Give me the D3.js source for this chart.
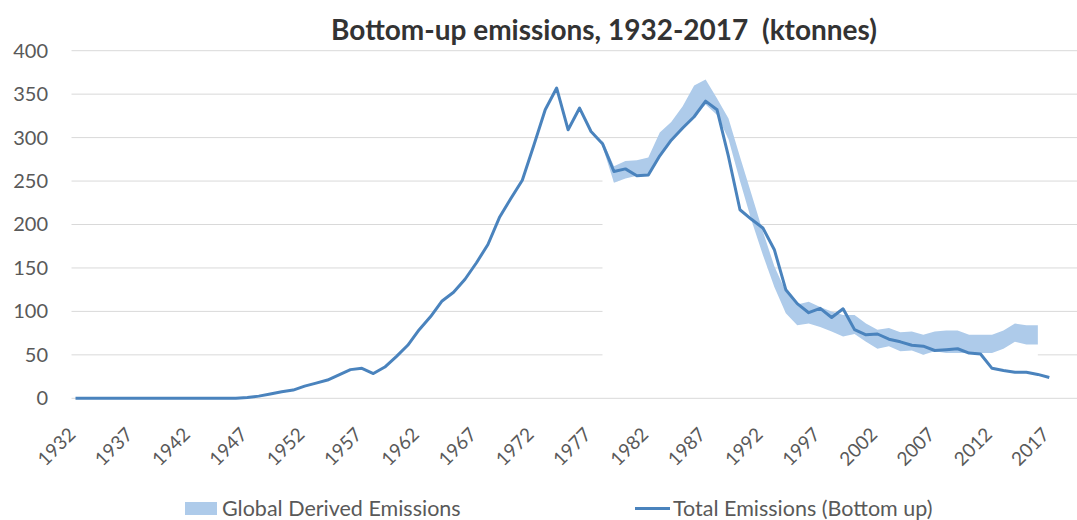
<!DOCTYPE html>
<html>
<head>
<meta charset="utf-8">
<script src="https://cdn.jsdelivr.net/npm/d3@7"></script>
<style>
  html, body { margin: 0; padding: 0; background: #fff; }
  svg { display: block; font-family: Lato, "Noto Sans", sans-serif; }
</style>
</head>
<body>
<div id="chart"></div>
<script>
// categories
const firstYear = 1932, lastYear = 2017;
const years = d3.range(firstYear, lastYear + 1);
const xTickYears = [1932, 1937, 1942, 1947, 1952, 1957, 1962, 1967, 1972, 1977,
  1982, 1987, 1992, 1997, 2002, 2007, 2012, 2017];
const yTicks = [0, 50, 100, 150, 200, 250, 300, 350, 400];

// Total Emissions (Bottom up), 1932-2017
const totalEmissions = [
  0, 0, 0, 0, 0, 0, 0, 0, 0, 0, 0, 0, 0, 0, 0,
  1, 2.5, 5, 7.5, 9.5, 14, 17.5, 21, 27, 33, 34.5, 28.5, 36, 48, 61,
  79, 94, 112, 122, 137, 156, 177, 208, 230, 251, 291, 332, 357, 309, 334,
  307, 293, 261, 264, 256, 257, 279, 297, 311, 324, 342, 332, 278, 217, 206,
  196, 171, 125, 109, 98.5, 103.5, 93, 103, 79, 73, 74, 68, 65, 61, 60,
  55, 56, 57, 52, 51, 34.5, 32, 30, 30, 27.5, 24
];

// Global Derived Emissions band, 1978-2016
const derivedStart = 1978;
const derivedLow = [
  290, 248, 253, 256, 257, 280, 297, 309, 323, 338,
  326, 298, 250, 205, 165, 128, 98, 84, 86, 82,
  77, 71, 74, 65, 57, 60, 54, 55, 50, 54,
  52, 52, 52, 52, 52, 57, 65, 62, 62
];
const derivedHigh = [
  297, 267, 273, 274, 277, 306, 318, 336, 360, 367,
  345, 322, 278, 235, 192, 152, 123, 108, 111, 105,
  100, 96, 96, 86, 79, 81, 76, 77, 73, 77,
  78, 78, 73, 73, 73, 78, 86, 84, 84
];

const W = 1077, H = 520;
const lineColor = '#4a83bd';
const bandColor = '#aecbea';
const gridColor = '#d9d9d9';
const textColor = '#595959';

const svg = d3.select('#chart').append('svg')
  .attr('width', W).attr('height', H);

const x = d3.scaleLinear().domain([firstYear, lastYear]).range([75.5, 1049.3]);
const y = d3.scaleLinear().domain([0, 400]).range([398.3, 50.7]);
const gridLeft = 71.5, gridRight = W;

// gridlines
svg.append('g')
  .selectAll('line')
  .data(yTicks.filter(d => d > 0))
  .join('line')
  .attr('x1', gridLeft).attr('x2', gridRight)
  .attr('y1', d => y(d)).attr('y2', d => y(d))
  .attr('stroke', gridColor).attr('stroke-width', 1);

const band = derivedLow.map((lo, i) => ({ year: derivedStart + i, lo, hi: derivedHigh[i] }));

// white base of the stacked band hides the gridlines below it
svg.append('path')
  .datum(band)
  .attr('fill', '#fff')
  .attr('d', d3.area().x(d => x(d.year)).y0(y(0)).y1(d => y(d.lo)));

svg.append('path')
  .datum(band)
  .attr('fill', bandColor)
  .attr('d', d3.area().x(d => x(d.year)).y0(d => y(d.lo)).y1(d => y(d.hi)));

// category axis line
svg.append('line')
  .attr('x1', gridLeft).attr('x2', gridRight)
  .attr('y1', y(0)).attr('y2', y(0))
  .attr('stroke', gridColor).attr('stroke-width', 1);

svg.append('path')
  .datum(years.map((yr, i) => ({ year: yr, v: totalEmissions[i] })))
  .attr('fill', 'none')
  .attr('stroke', lineColor)
  .attr('stroke-width', 3)
  .attr('stroke-linejoin', 'round')
  .attr('d', d3.line().x(d => x(d.year)).y(d => y(d.v)));

// y axis labels
const yAxis = svg.append('g')
  .attr('transform', 'translate(48,0)')
  .call(d3.axisLeft(y).tickValues(yTicks).tickSize(0).tickPadding(0));
yAxis.select('.domain').remove();
yAxis.selectAll('text')
  .attr('font-size', 20).attr('fill', textColor)
  .attr('font-family', 'Lato, "Noto Sans", sans-serif');

// x axis labels, rotated
const xAxis = svg.append('g')
  .attr('transform', 'translate(0,431)')
  .call(d3.axisBottom(x).tickValues(xTickYears).tickFormat(d3.format('d')).tickSize(0).tickPadding(0));
xAxis.select('.domain').remove();
xAxis.selectAll('text')
  .attr('font-size', 19).attr('fill', textColor)
  .attr('font-family', 'Lato, "Noto Sans", sans-serif')
  .attr('text-anchor', 'end')
  .attr('x', 0).attr('y', 0).attr('dy', '0.35em')
  .attr('transform', 'translate(-4,0) rotate(-45)');

// title
svg.append('text')
  .attr('x', 604).attr('y', 40)
  .attr('text-anchor', 'middle')
  .attr('font-size', 28).attr('font-weight', 'bold')
  .attr('fill', '#333')
  .style('white-space', 'pre')
  .text('Bottom-up emissions, 1932-2017  (ktonnes)');

// legend
const legend = svg.append('g').attr('font-size', 21.5).attr('fill', textColor);
legend.append('rect')
  .attr('x', 185).attr('y', 502).attr('width', 32).attr('height', 13)
  .attr('fill', bandColor);
legend.append('text')
  .attr('x', 222).attr('y', 508).attr('dy', '0.35em')
  .text('Global Derived Emissions');
legend.append('line')
  .attr('x1', 635).attr('x2', 670).attr('y1', 508.5).attr('y2', 508.5)
  .attr('stroke', lineColor).attr('stroke-width', 3);
legend.append('text')
  .attr('x', 673).attr('y', 508).attr('dy', '0.35em')
  .text('Total Emissions (Bottom up)');
</script>
</body>
</html>
